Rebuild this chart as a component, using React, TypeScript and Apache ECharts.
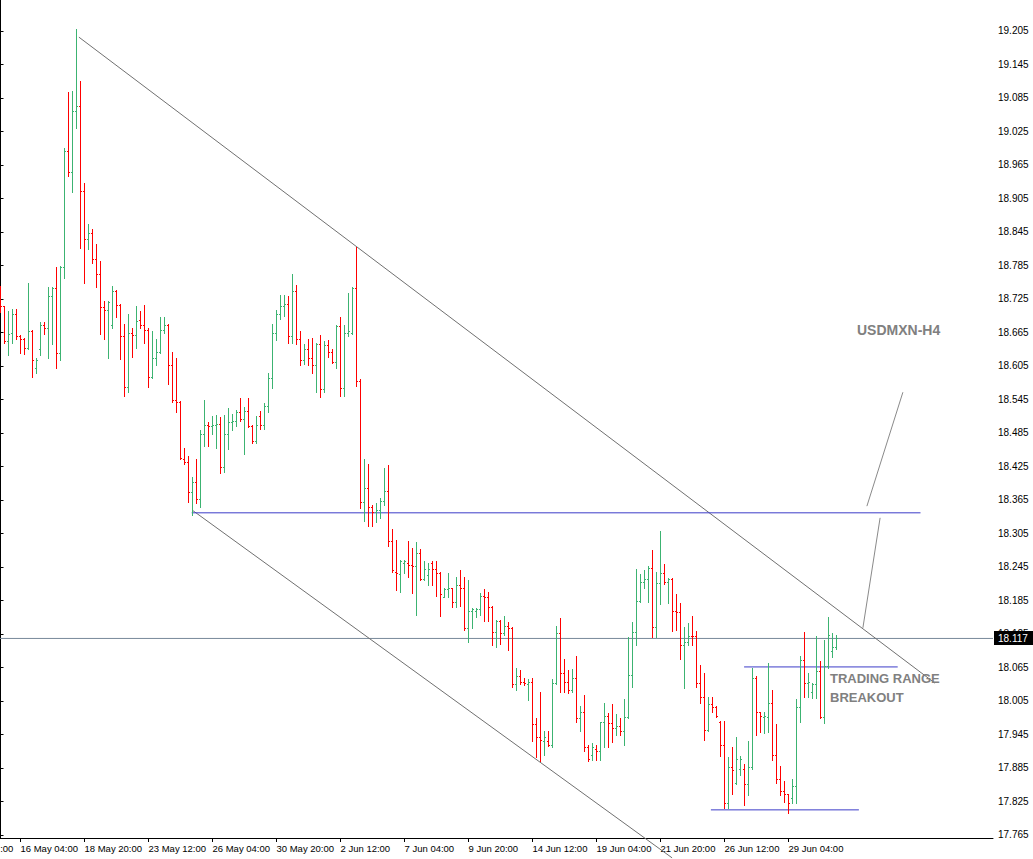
import React, { useEffect, useRef } from "react";
import * as echarts from "echarts";

// 4-hour USDMXN bars, one per index (weekends skipped)
const opens = [
  18.738, 18.711, 18.648, 18.664, 18.698, 18.657, 18.652, 18.637, 18.666, 18.601,
  18.634, 18.678, 18.673, 18.730, 18.743, 18.628, 18.782, 18.990, 18.952, 19.060,
  19.069, 18.918, 18.831, 18.843, 18.795, 18.768, 18.709, 18.705, 18.678, 18.739,
  18.714, 18.657, 18.567, 18.664, 18.659, 18.686, 18.678, 18.669, 18.584, 18.618,
  18.630, 18.669, 18.678, 18.605, 18.544, 18.539, 18.438, 18.433, 18.378, 18.397,
  18.365, 18.483, 18.499, 18.496, 18.499, 18.501, 18.424, 18.483, 18.503, 18.505,
  18.521, 18.510, 18.524, 18.496, 18.469, 18.515, 18.498, 18.533, 18.582, 18.664,
  18.698, 18.711, 18.716, 18.657, 18.738, 18.652, 18.614, 18.635, 18.619, 18.605,
  18.644, 18.562, 18.641, 18.630, 18.612, 18.675, 18.564, 18.664, 18.664, 18.743,
  18.578, 18.361, 18.385, 18.352, 18.342, 18.347, 18.363, 18.381, 18.290, 18.236,
  18.231, 18.252, 18.252, 18.247, 18.245, 18.270, 18.222, 18.229, 18.252, 18.241,
  18.234, 18.191, 18.204, 18.206, 18.181, 18.211, 18.207, 18.134, 18.166, 18.166,
  18.168, 18.193, 18.190, 18.173, 18.127, 18.148, 18.125, 18.139, 18.134, 18.034,
  18.048, 18.039, 18.034, 18.039, 17.962, 17.939, 17.933, 17.933, 17.926, 18.037,
  18.125, 18.055, 18.039, 18.023, 18.046, 17.973, 17.985, 17.921, 17.908, 17.919,
  17.915, 17.966, 17.978, 17.964, 17.955, 17.960, 17.950, 17.976, 18.050, 18.127,
  18.184, 18.218, 18.222, 18.243, 18.136, 18.216, 18.234, 18.218, 18.222, 18.166,
  18.163, 18.105, 18.109, 18.121, 18.120, 18.037, 18.012, 17.953, 17.998, 17.994,
  17.967, 17.926, 17.822, 17.885, 17.858, 17.883, 17.883, 17.856, 17.885, 18.046,
  17.984, 17.976, 17.976, 18.001, 17.908, 17.865, 17.842, 17.837, 17.831, 17.851,
  17.994, 18.078, 18.037, 18.021, 18.034, 18.057, 17.976, 18.066, 18.093, 18.100,
];
const highs = [
  18.748, 18.712, 18.703, 18.707, 18.707, 18.659, 18.654, 18.752, 18.668, 18.618,
  18.682, 18.682, 18.746, 18.745, 18.781, 18.783, 18.995, 19.094, 19.096, 19.207,
  19.115, 18.931, 18.859, 18.850, 18.822, 18.793, 18.720, 18.720, 18.748, 18.741,
  18.715, 18.680, 18.698, 18.673, 18.712, 18.702, 18.714, 18.673, 18.666, 18.653,
  18.691, 18.691, 18.680, 18.630, 18.618, 18.541, 18.458, 18.442, 18.406, 18.437,
  18.490, 18.544, 18.503, 18.515, 18.517, 18.512, 18.517, 18.528, 18.519, 18.526,
  18.546, 18.530, 18.546, 18.498, 18.515, 18.524, 18.537, 18.591, 18.680, 18.705,
  18.732, 18.732, 18.730, 18.768, 18.750, 18.666, 18.643, 18.653, 18.655, 18.646,
  18.659, 18.648, 18.650, 18.634, 18.678, 18.691, 18.678, 18.734, 18.745, 18.818,
  18.580, 18.438, 18.429, 18.356, 18.358, 18.367, 18.422, 18.426, 18.313, 18.293,
  18.256, 18.256, 18.290, 18.279, 18.288, 18.277, 18.254, 18.252, 18.254, 18.254,
  18.236, 18.207, 18.234, 18.207, 18.227, 18.238, 18.227, 18.220, 18.170, 18.170,
  18.198, 18.204, 18.200, 18.175, 18.150, 18.150, 18.157, 18.145, 18.136, 18.064,
  18.059, 18.046, 18.044, 18.046, 17.973, 18.021, 17.951, 17.951, 18.044, 18.138,
  18.152, 18.080, 18.059, 18.062, 18.084, 17.996, 18.014, 17.926, 17.928, 17.926,
  17.967, 18.000, 17.982, 17.998, 17.980, 17.973, 18.007, 18.118, 18.145, 18.240,
  18.232, 18.238, 18.245, 18.274, 18.236, 18.308, 18.250, 18.224, 18.224, 18.195,
  18.179, 18.136, 18.143, 18.157, 18.129, 18.069, 18.055, 18.012, 18.012, 17.996,
  17.968, 17.968, 17.903, 17.921, 17.939, 17.905, 17.892, 17.933, 18.064, 18.048,
  17.985, 17.985, 18.073, 18.023, 17.962, 17.887, 17.860, 17.838, 17.865, 18.007,
  18.084, 18.127, 18.055, 18.037, 18.121, 18.075, 18.114, 18.155, 18.125, 18.123,
];
const lows = [
  18.700, 18.646, 18.623, 18.646, 18.653, 18.628, 18.625, 18.635, 18.584, 18.592,
  18.623, 18.662, 18.619, 18.643, 18.600, 18.614, 18.761, 18.945, 18.915, 19.031,
  18.815, 18.752, 18.813, 18.788, 18.745, 18.662, 18.653, 18.619, 18.673, 18.691,
  18.616, 18.551, 18.558, 18.621, 18.637, 18.673, 18.646, 18.567, 18.582, 18.605,
  18.628, 18.664, 18.571, 18.539, 18.521, 18.438, 18.428, 18.360, 18.338, 18.358,
  18.351, 18.460, 18.460, 18.483, 18.458, 18.413, 18.415, 18.455, 18.489, 18.496,
  18.505, 18.446, 18.494, 18.467, 18.467, 18.492, 18.492, 18.521, 18.564, 18.650,
  18.689, 18.693, 18.646, 18.646, 18.644, 18.605, 18.607, 18.605, 18.592, 18.557,
  18.548, 18.557, 18.621, 18.610, 18.601, 18.551, 18.551, 18.657, 18.662, 18.569,
  18.349, 18.326, 18.317, 18.317, 18.324, 18.331, 18.356, 18.281, 18.236, 18.202,
  18.200, 18.234, 18.227, 18.197, 18.159, 18.220, 18.220, 18.211, 18.211, 18.193,
  18.157, 18.190, 18.191, 18.173, 18.173, 18.175, 18.132, 18.109, 18.134, 18.155,
  18.159, 18.147, 18.148, 18.105, 18.100, 18.107, 18.123, 18.096, 18.030, 18.023,
  18.034, 18.032, 18.005, 17.932, 17.903, 17.896, 17.907, 17.923, 17.921, 18.034,
  18.021, 18.021, 18.019, 18.021, 17.967, 17.951, 17.914, 17.896, 17.899, 17.898,
  17.899, 17.921, 17.921, 17.930, 17.944, 17.944, 17.926, 17.974, 18.030, 18.104,
  18.182, 18.206, 18.182, 18.118, 18.118, 18.177, 18.213, 18.179, 18.129, 18.132,
  18.080, 18.028, 18.104, 18.104, 18.030, 18.000, 17.935, 17.950, 17.984, 17.976,
  17.905, 17.812, 17.813, 17.837, 17.855, 17.871, 17.817, 17.835, 17.883, 17.944,
  17.948, 17.946, 17.948, 17.899, 17.858, 17.835, 17.824, 17.804, 17.822, 17.822,
  17.966, 18.012, 18.012, 18.009, 18.009, 17.974, 17.964, 18.064, 18.082, 18.098,
];
const closes = [
  18.711, 18.648, 18.662, 18.698, 18.657, 18.652, 18.637, 18.666, 18.614, 18.614,
  18.678, 18.673, 18.730, 18.743, 18.628, 18.782, 18.990, 18.952, 19.060, 19.069,
  18.918, 18.831, 18.843, 18.795, 18.768, 18.709, 18.705, 18.718, 18.739, 18.714,
  18.657, 18.567, 18.664, 18.659, 18.684, 18.678, 18.669, 18.584, 18.618, 18.630,
  18.669, 18.678, 18.605, 18.544, 18.539, 18.440, 18.433, 18.378, 18.397, 18.365,
  18.483, 18.499, 18.496, 18.499, 18.501, 18.424, 18.483, 18.503, 18.505, 18.521,
  18.510, 18.524, 18.496, 18.469, 18.498, 18.498, 18.533, 18.582, 18.664, 18.698,
  18.711, 18.716, 18.657, 18.738, 18.652, 18.614, 18.634, 18.619, 18.605, 18.644,
  18.562, 18.641, 18.630, 18.612, 18.675, 18.564, 18.664, 18.666, 18.743, 18.578,
  18.361, 18.385, 18.352, 18.342, 18.347, 18.363, 18.381, 18.290, 18.238, 18.234,
  18.254, 18.254, 18.247, 18.245, 18.270, 18.222, 18.241, 18.241, 18.241, 18.234,
  18.195, 18.204, 18.207, 18.181, 18.211, 18.207, 18.134, 18.166, 18.168, 18.168,
  18.193, 18.190, 18.173, 18.127, 18.148, 18.125, 18.139, 18.134, 18.034, 18.048,
  18.039, 18.036, 18.039, 17.962, 17.939, 17.935, 17.939, 17.926, 18.037, 18.125,
  18.055, 18.039, 18.023, 18.046, 17.973, 17.985, 17.921, 17.901, 17.921, 17.915,
  17.966, 17.978, 17.964, 17.955, 17.960, 17.950, 17.976, 18.050, 18.127, 18.184,
  18.218, 18.222, 18.243, 18.136, 18.216, 18.234, 18.218, 18.222, 18.166, 18.163,
  18.105, 18.109, 18.121, 18.120, 18.037, 18.012, 17.953, 17.998, 17.994, 17.978,
  17.926, 17.822, 17.885, 17.881, 17.901, 17.901, 17.856, 17.885, 18.046, 17.984,
  17.978, 17.978, 18.001, 17.908, 17.865, 17.842, 17.837, 17.822, 17.851, 17.994,
  18.078, 18.037, 18.039, 18.034, 18.057, 17.976, 18.066, 18.123, 18.100, 18.117,
];

// time-axis ticks (bar index -> label)
const xTickIndex = [5, 21, 37, 53, 69, 85, 101, 117, 133, 149, 165, 181, 197];
const xTickLabels = [
  "16 May 04:00", "18 May 20:00", "23 May 12:00", "26 May 04:00", "30 May 20:00",
  "2 Jun 12:00", "7 Jun 04:00", "9 Jun 20:00", "14 Jun 12:00", "19 Jun 04:00",
  "21 Jun 20:00", "26 Jun 12:00", "29 Jun 04:00",
];
const leadingTickIndex = -11;
const leadingTickLabel = "11 May 12:00";

const yTicks = [
  17.765, 17.825, 17.885, 17.945, 18.005, 18.065, 18.125, 18.185, 18.245, 18.305,
  18.365, 18.425, 18.485, 18.545, 18.605, 18.665, 18.725, 18.785, 18.845, 18.905,
  18.965, 19.025, 19.085, 19.145, 19.205,
];
const lastPrice = 18.117;

// drawn objects, in [bar index, price]
const upperTrend = [[19.6, 19.194], [233.6, 18.037]];
const lowerTrend = [[47.9, 18.347], [167.9, 17.724]];
const supportLine = [[47.8, 18.342], [230.0, 18.342]];
const rangeHigh = [[185.9, 18.066], [224.3, 18.066]];
const rangeLow = [[177.6, 17.81], [214.6, 17.81]];
const arrowUpper = [[216.6, 18.354], [225.6, 18.558]];
const arrowLower = [[215.6, 18.136], [219.9, 18.333]];

const X_MIN = -0.125;
const X_MAX = 248.125;
const Y_MIN = 17.7596;
const Y_MAX = 19.2605;

const GREEN = "#3cb371";
const RED = "#ff0000";
const BLUE = "#3c3cc8";
const TREND = "#707070";
const ARROW = "#8a8a8a";
const FONT = "Liberation Sans";

function seg(data: number[][], color: string) {
  return {
    type: "line",
    data,
    symbol: "none",
    clip: false,
    silent: true,
    z: 3,
    lineStyle: { color, width: 1 },
  };
}

export default function App() {
  const ref = useRef<HTMLDivElement>(null);

  useEffect(() => {
    if (!ref.current) return;
    const chart = echarts.init(ref.current, null, { renderer: "svg" });
    const bars = opens.map((o, i) => [i, o, highs[i], lows[i], closes[i]]);
    chart.setOption({
      animation: false,
      backgroundColor: "#ffffff",
      grid: { left: 0, right: 40, top: 0, bottom: 21, containLabel: false },
      xAxis: {
        type: "value",
        min: X_MIN,
        max: X_MAX,
        axisLine: { show: true, onZero: false, lineStyle: { color: "#000", width: 1 } },
        axisTick: {
          show: true,
          customValues: xTickIndex,
          length: 4,
          lineStyle: { color: "#000" },
        },
        axisLabel: {
          customValues: xTickIndex,
          formatter: (v: number) => xTickLabels[xTickIndex.indexOf(v)] ?? "",
          align: "left",
          color: "#000",
          fontSize: 9.5,
          fontFamily: FONT,
          margin: 5,
        },
        splitLine: { show: false },
      },
      yAxis: {
        type: "value",
        position: "right",
        min: Y_MIN,
        max: Y_MAX,
        scale: true,
        axisLine: { show: true, lineStyle: { color: "#000", width: 1 } },
        axisTick: {
          show: true,
          customValues: yTicks,
          length: 3,
          lineStyle: { color: "#000" },
        },
        axisLabel: {
          customValues: yTicks,
          formatter: (v: number) => v.toFixed(3),
          color: "#000",
          fontSize: 10,
          fontFamily: FONT,
          margin: 5,
        },
        splitLine: { show: false },
      },
      series: [
        seg([[X_MIN, lastPrice], [X_MAX, lastPrice]], "#778899"),
        seg(upperTrend, TREND),
        seg(lowerTrend, TREND),
        seg(supportLine, BLUE),
        seg(rangeHigh, BLUE),
        seg(rangeLow, BLUE),
        seg(arrowUpper, ARROW),
        seg(arrowLower, ARROW),
        {
          type: "custom",
          data: bars,
          encode: { x: 0, y: [1, 2, 3, 4] },
          clip: false,
          silent: true,
          z: 5,
          renderItem: (params: any, api: any) => {
            const i = api.value(0);
            const o = api.value(1);
            const h = api.value(2);
            const l = api.value(3);
            const c = api.value(4);
            const po = api.coord([i, o]);
            const yh = api.coord([i, h])[1];
            const yl = api.coord([i, l])[1];
            const yc = api.coord([i, c])[1];
            const color = c >= o ? GREEN : RED;
            const X = Math.floor(po[0]) + 0.5;
            const ro = Math.floor(po[1]) + 0.5;
            const rc = Math.floor(yc) + 0.5;
            const st = { stroke: color, lineWidth: 1 };
            return {
              type: "group",
              children: [
                { type: "line", shape: { x1: X, y1: Math.floor(yh), x2: X, y2: Math.floor(yl) + 1 }, style: st },
                { type: "line", shape: { x1: X - 1.5, y1: ro, x2: X - 0.5, y2: ro }, style: st },
                { type: "line", shape: { x1: X + 0.5, y1: rc, x2: X + 1.5, y2: rc }, style: st },
              ],
            };
          },
        },
      ],
    });

    const py = chart.convertToPixel({ yAxisIndex: 0 }, lastPrice) as number;
    const lx = chart.convertToPixel({ xAxisIndex: 0 }, leadingTickIndex) as number;
    const gray = "#808080";
    chart.setOption({
      graphic: [
        {
          type: "rect",
          z: 100,
          shape: { x: 994, y: Math.round(py) - 7, width: 39, height: 14 },
          style: { fill: "#000" },
        },
        {
          type: "text",
          z: 101,
          x: 998,
          y: py,
          style: {
            text: lastPrice.toFixed(3),
            fill: "#fff",
            font: `10px "${FONT}"`,
            textAlign: "left",
            textVerticalAlign: "middle",
            verticalAlign: "middle",
          },
        },
        {
          type: "text",
          z: 100,
          x: lx,
          y: 843,
          style: {
            text: leadingTickLabel,
            fill: "#000",
            font: `9.5px "${FONT}"`,
            textAlign: "left",
            textVerticalAlign: "top",
            verticalAlign: "top",
          },
        },
        {
          type: "text",
          z: 100,
          x: 857,
          y: 330,
          style: {
            text: "USDMXN-H4",
            fill: gray,
            font: `bold 14px "${FONT}"`,
            textAlign: "left",
            textVerticalAlign: "middle",
            verticalAlign: "middle",
          },
        },
        {
          type: "text",
          z: 100,
          x: 830,
          y: 678,
          style: {
            text: "TRADING RANGE",
            fill: gray,
            font: `bold 13px "${FONT}"`,
            textAlign: "left",
            textVerticalAlign: "middle",
            verticalAlign: "middle",
          },
        },
        {
          type: "text",
          z: 100,
          x: 830,
          y: 697,
          style: {
            text: "BREAKOUT",
            fill: gray,
            font: `bold 13px "${FONT}"`,
            textAlign: "left",
            textVerticalAlign: "middle",
            verticalAlign: "middle",
          },
        },
      ],
    });

    return () => chart.dispose();
  }, []);

  return (
    <div
      ref={ref}
      style={{ position: "absolute", left: 0, top: 0, width: 1033, height: 859, background: "#fff" }}
    />
  );
}
